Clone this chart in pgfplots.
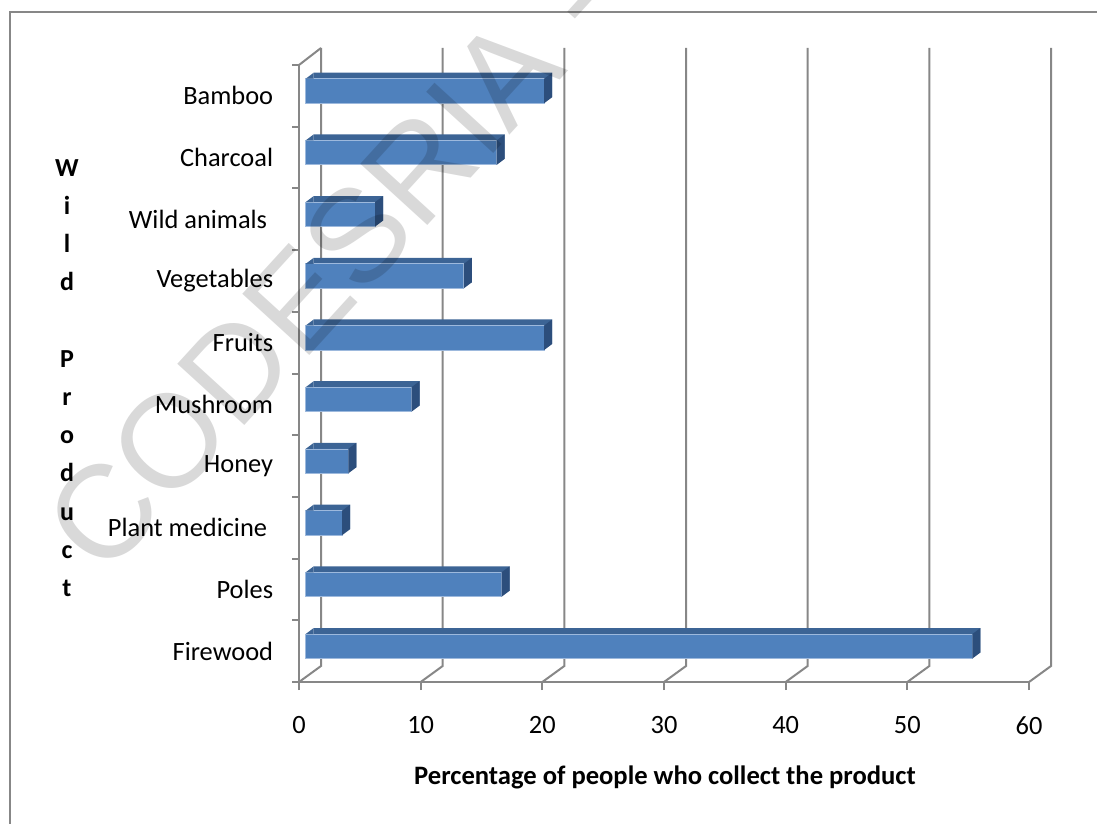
\documentclass[border=0pt]{standalone}
\usepackage{fontspec}
\setmainfont{Carlito}
\newfontfamily\markfont{Liberation Sans}
\usepackage{pgfplots}
\usepackage{pgfplotstable}
\pgfplotsset{compat=1.18}

\definecolor{barfront}{HTML}{4F81BD}
\definecolor{bartop}{HTML}{3C6495}
\definecolor{barside}{HTML}{2C4E7C}
\definecolor{baredge}{HTML}{9DB9DD}
\definecolor{framegray}{HTML}{878787}

% Share of people collecting each wild product (%)
\pgfplotstableread{
pos value
0 54.8
1 16.1
2 3.0
3 3.5
4 8.7
5 19.6
6 13.0
7 5.7
8 15.7
9 19.6
}\wildproducts

% right-hand face of a 3-D bar, placed at the bar's end
\pgfdeclareplotmark{barend}{%
  \pgfpathmoveto{\pgfpoint{3.35pt}{8.575pt}}%
  \pgfpathlineto{\pgfpoint{7.35pt}{11.575pt}}%
  \pgfpathlineto{\pgfpoint{7.35pt}{-0.675pt}}%
  \pgfpathlineto{\pgfpoint{3.35pt}{-3.675pt}}%
  \pgfpathclose
  \pgfusepathqfill}
% bevel at the left end of a bar's top face
\pgfdeclareplotmark{barstart}{%
  \pgfpathmoveto{\pgfpoint{3.35pt}{8.575pt}}%
  \pgfpathlineto{\pgfpoint{7.35pt}{11.575pt}}%
  \pgfpathlineto{\pgfpoint{7.35pt}{8.575pt}}%
  \pgfpathclose
  \pgfusepathqfill}

\begin{document}
\begin{tikzpicture}
\useasboundingbox (0,0) rectangle (548.5pt,-412pt);
\begin{scope}[x=0.5pt,y=-0.5pt]
  \draw[framegray, line width=1pt] (10,12) rectangle (1120,850);
  % back wall and floor
  \foreach \k in {0,...,6} {
    \pgfmathsetmacro\X{299+121.667*\k}
    \draw[framegray, line width=1pt] (\X,682) -- (\X+22,666) -- (\X+22,48);
  }
  \draw[framegray, line width=1pt] (299,65) -- (321,48);
\end{scope}

\begin{axis}[
  at={(149.5pt,-341pt)}, anchor=south west,
  scale only axis, width=365pt, height=308.5pt,
  xmin=0, xmax=60, ymin=-0.5, ymax=9.5,
  clip=false,
  axis x line*=bottom, axis y line*=left,
  axis line style={draw=framegray, line width=1pt},
  xtick={0,10,...,60},
  ytick={0,...,9},
  yticklabels={Firewood, Poles, {Plant medicine\kern3pt}, Honey, Mushroom, Fruits, Vegetables, {Wild animals\kern3pt}, Charcoal, Bamboo},
  minor ytick={-0.5,0.5,...,9.5},
  tick align=outside,
  major tick length=4pt, minor tick length=3.5pt,
  major y tick style={draw=none},
  minor y tick style={draw=framegray, line width=1pt},
  major x tick style={draw=framegray, line width=1pt},
  tick label style={font=\fontsize{13.2}{16}\selectfont, text=black},
  /pgf/number format/assume math mode=true,
  xticklabel style={inner sep=0pt, anchor=north, yshift=-13pt},
  yticklabel style={inner sep=0pt, anchor=east, xshift=-8.75pt},
]
  \addplot[xbar, bar width=12.25pt, fill=bartop, draw=none,
           xshift=7.35pt, yshift=5.45pt] table[x=value, y=pos] {\wildproducts};
  \addplot[xbar, bar width=12.25pt, fill=barfront, draw=baredge, line width=0.4pt,
           xshift=3.35pt, yshift=2.45pt] table[x=value, y=pos] {\wildproducts};
  \addplot[only marks, mark=barend, mark options={fill=barside, draw=none}]
           table[x=value, y=pos] {\wildproducts};
  \addplot[only marks, mark=barstart, mark options={fill=bartop, draw=none}]
           table[x expr=0, y=pos] {\wildproducts};
\end{axis}

\begin{scope}[x=0.5pt,y=-0.5pt]
  \node[font=\bfseries\fontsize{13.3}{16}\selectfont] at (665,777)
    {Percentage of people who collect the product};
  \node[font=\bfseries\fontsize{13}{19.1}\selectfont, align=center] at (67,378)
    {W\\i\\l\\d\\\mbox{}\\P\\r\\o\\d\\u\\c\\t};
  \node[rotate=47.6, anchor=base west, text=black, opacity=0.15,
        font=\markfont\fontsize{66}{66}\selectfont, inner sep=0pt] at (104,580) {CODESRIA - };
\end{scope}
\end{tikzpicture}
\end{document}
